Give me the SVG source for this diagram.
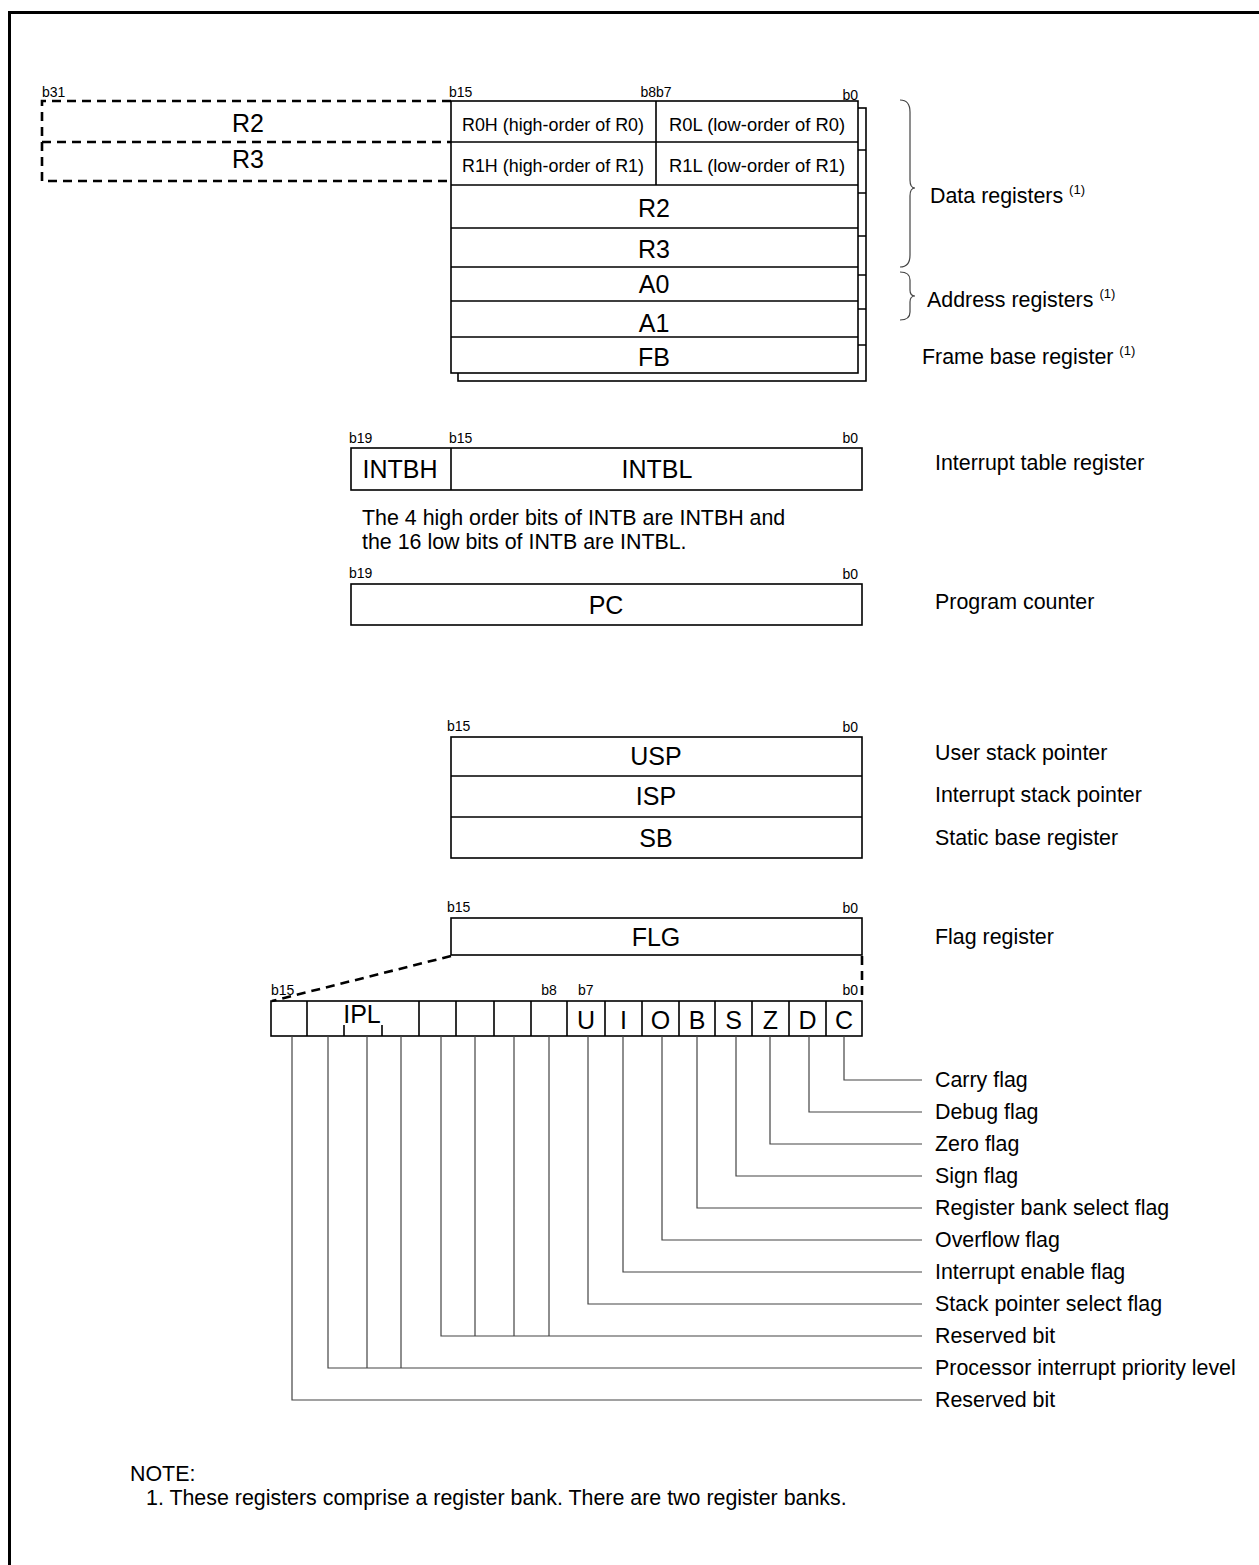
<svg xmlns="http://www.w3.org/2000/svg" width="1259" height="1565" viewBox="0 0 1259 1565">
<style>
text{font-family:"Liberation Sans",Arial,sans-serif;fill:#000}
.big{font-size:25px;text-anchor:middle}
.mid{font-size:19px}
.lbl{font-size:21.4px}
.note{font-size:21.4px}
.bit{font-size:14px}
.sup{font-size:13px}
.box{fill:#fff;stroke:#000;stroke-width:1.6}
.ln{fill:none;stroke:#000;stroke-width:1.6}
.dash{fill:none;stroke:#000;stroke-width:2.6;stroke-dasharray:9 6}
.con{fill:none;stroke:#444;stroke-width:1.2}
</style>
<path d="M9.5 1565 V12.5 H1259" fill="none" stroke="#000" stroke-width="3"/>

<g id="general-registers">
<rect x="458" y="108" width="408" height="273" class="box"/>
<path class="ln" d="M858 150 H866 M858 193 H866 M858 236 H866 M858 275 H866 M858 309 H866 M858 345 H866"/>
<rect x="451" y="101" width="407" height="272" class="box"/>
<path class="ln" d="M451 142 H858 M451 185 H858 M451 228 H858 M451 267 H858 M451 301 H858 M451 337 H858 M656 101 V185"/>
<text class="bit" x="449" y="97">b15</text>
<text class="bit" x="656" y="97" text-anchor="middle">b8b7</text>
<text class="bit" x="858" y="100" text-anchor="end">b0</text>
<text class="mid" x="553" y="131" text-anchor="middle" textLength="182" lengthAdjust="spacingAndGlyphs">R0H (high-order of R0)</text>
<text class="mid" x="757" y="131" text-anchor="middle" textLength="176" lengthAdjust="spacingAndGlyphs">R0L (low-order of R0)</text>
<text class="mid" x="553" y="172" text-anchor="middle" textLength="182" lengthAdjust="spacingAndGlyphs">R1H (high-order of R1)</text>
<text class="mid" x="757" y="172" text-anchor="middle" textLength="176" lengthAdjust="spacingAndGlyphs">R1L (low-order of R1)</text>
<text class="big" x="654" y="217">R2</text>
<text class="big" x="654" y="258">R3</text>
<text class="big" x="654" y="293">A0</text>
<text class="big" x="654" y="332">A1</text>
<text class="big" x="654" y="366">FB</text>
</g>

<g id="extended-registers">
<path class="dash" d="M451 101 H42 V181 H451 M42 142 H451"/>
<text class="bit" x="42" y="97">b31</text>
<text class="big" x="248" y="132">R2</text>
<text class="big" x="248" y="168">R3</text>
</g>

<g id="braces">
<path class="con" d="M900 100 Q910 100 910 112 V180 Q910 188 915 188 Q910 188 910 196 V255 Q910 267 900 267"/>
<path class="con" d="M900 272 Q910 272 910 280 V290 Q910 296 915 296 Q910 296 910 302 V312 Q910 320 900 320"/>
<text class="lbl" x="930" y="203">Data registers <tspan class="sup" dy="-9">(1)</tspan></text>
<text class="lbl" x="927" y="307">Address registers <tspan class="sup" dy="-9">(1)</tspan></text>
<text class="lbl" x="922" y="364">Frame base register <tspan class="sup" dy="-9">(1)</tspan></text>
</g>

<g id="intb">
<rect x="351" y="448" width="511" height="42" class="box"/>
<path class="ln" d="M451 448 V490"/>
<text class="bit" x="349" y="443">b19</text>
<text class="bit" x="449" y="443">b15</text>
<text class="bit" x="858" y="443" text-anchor="end">b0</text>
<text class="big" x="400" y="478">INTBH</text>
<text class="big" x="657" y="478">INTBL</text>
<text class="lbl" x="935" y="470">Interrupt table register</text>
<text class="note" x="362" y="525">The 4 high order bits of INTB are INTBH and</text>
<text class="note" x="362" y="549">the 16 low bits of INTB are INTBL.</text>
</g>

<g id="pc">
<rect x="351" y="584" width="511" height="41" class="box"/>
<text class="bit" x="349" y="578">b19</text>
<text class="bit" x="858" y="579" text-anchor="end">b0</text>
<text class="big" x="606" y="614">PC</text>
<text class="lbl" x="935" y="609">Program counter</text>
</g>

<g id="stack-registers">
<rect x="451" y="737" width="411" height="121" class="box"/>
<path class="ln" d="M451 776 H862 M451 817 H862"/>
<text class="bit" x="447" y="731">b15</text>
<text class="bit" x="858" y="732" text-anchor="end">b0</text>
<text class="big" x="656" y="765">USP</text>
<text class="big" x="656" y="805">ISP</text>
<text class="big" x="656" y="847">SB</text>
<text class="lbl" x="935" y="760">User stack pointer</text>
<text class="lbl" x="935" y="802">Interrupt stack pointer</text>
<text class="lbl" x="935" y="845">Static base register</text>
</g>

<g id="flg">
<rect x="451" y="918" width="411" height="37" class="box"/>
<text class="bit" x="447" y="912">b15</text>
<text class="bit" x="858" y="913" text-anchor="end">b0</text>
<text class="big" x="656" y="946">FLG</text>
<text class="lbl" x="935" y="944">Flag register</text>
</g>

<g id="flag-bits">
<rect x="271" y="1001" width="591" height="35" class="box"/>
<path class="ln" d="M307 1001 V1036 M419 1001 V1036 M456 1001 V1036 M494 1001 V1036 M531 1001 V1036 M567 1001 V1036 M605 1001 V1036 M642 1001 V1036 M679 1001 V1036 M715 1001 V1036 M752 1001 V1036 M789 1001 V1036 M826 1001 V1036 M344 1025 V1036 M382 1025 V1036"/>
<text class="bit" x="271" y="995">b15</text>
<text class="bit" x="549" y="995" text-anchor="middle">b8</text>
<text class="bit" x="578" y="995">b7</text>
<text class="bit" x="858" y="995" text-anchor="end">b0</text>
<text class="big" x="362" y="1023">IPL</text>
<text class="big" x="586" y="1029">U</text>
<text class="big" x="623.5" y="1029">I</text>
<text class="big" x="660.5" y="1029">O</text>
<text class="big" x="697" y="1029">B</text>
<text class="big" x="733.5" y="1029">S</text>
<text class="big" x="770.5" y="1029">Z</text>
<text class="big" x="807.5" y="1029">D</text>
<text class="big" x="844" y="1029">C</text>
</g>

<g id="connectors">
<path class="dash" d="M451 956 L272 1001 M862 956 V1001"/>
<path class="con" d="M844 1036 V1080 H922 M809 1036 V1112 H922 M770 1036 V1144 H922 M736 1036 V1176 H922 M697 1036 V1208 H922 M662 1036 V1240 H922 M623 1036 V1272 H922 M588 1036 V1304 H922 M549 1036 V1336 M514 1036 V1336 M475 1036 V1336 M441 1036 V1336 H922 M401 1036 V1368 M367 1036 V1368 M328 1036 V1368 H922 M292 1036 V1400 H922"/>
</g>

<g id="flag-labels">
<text class="lbl" x="935" y="1087">Carry flag</text>
<text class="lbl" x="935" y="1119">Debug flag</text>
<text class="lbl" x="935" y="1151">Zero flag</text>
<text class="lbl" x="935" y="1183">Sign flag</text>
<text class="lbl" x="935" y="1215">Register bank select flag</text>
<text class="lbl" x="935" y="1247">Overflow flag</text>
<text class="lbl" x="935" y="1279">Interrupt enable flag</text>
<text class="lbl" x="935" y="1311">Stack pointer select flag</text>
<text class="lbl" x="935" y="1343">Reserved bit</text>
<text class="lbl" x="935" y="1375">Processor interrupt priority level</text>
<text class="lbl" x="935" y="1407">Reserved bit</text>
</g>

<g id="note">
<text class="note" x="130" y="1481">NOTE:</text>
<text class="note" x="146" y="1505">1. These registers comprise a register bank. There are two register banks.</text>
</g>
</svg>
